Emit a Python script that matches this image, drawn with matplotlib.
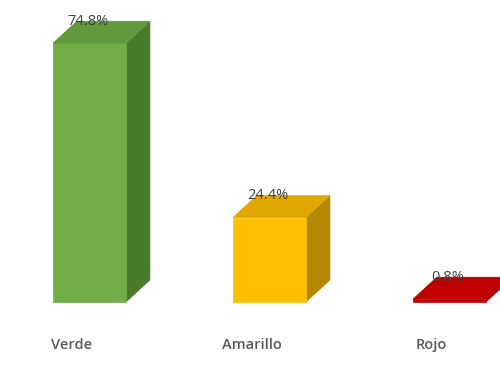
import matplotlib
matplotlib.use("Agg")
import matplotlib.pyplot as plt
from matplotlib.patches import Polygon

categories = ["Verde", "Amarillo", "Rojo"]
values = [74.8, 24.4, 0.8]
value_labels = ["74.8%", "24.4%", "0.8%"]
front_colors = ["#70AD47", "#FFC000", "#C00000"]
top_colors = ["#62993C", "#E0A800", "#C00000"]
side_colors = ["#4A7A2C", "#B38700", "#900000"]

fig = plt.figure(figsize=(5.0, 3.67), dpi=100)
ax = fig.add_axes([0, 0, 1, 1])
ax.set_xlim(-0.497, 2.281)
ax.set_ylim(-18.8, 87.3)
ax.axis("off")

w = 0.406
dx = 0.133
dy = 6.36

for i, (v, fc, tc, sc) in enumerate(zip(values, front_colors, top_colors, side_colors)):
    x0 = i - w / 2
    x1 = i + w / 2
    ax.add_patch(Polygon([(x1, 0), (x1 + dx, dy), (x1 + dx, v + dy), (x1, v)],
                         closed=True, facecolor=sc, edgecolor=sc, lw=0.5))
    ax.add_patch(Polygon([(x0, 0), (x1, 0), (x1, v), (x0, v)],
                         closed=True, facecolor=fc, edgecolor=fc, lw=0.5))
    ax.add_patch(Polygon([(x0, v), (x1, v), (x1 + dx, v + dy), (x0 + dx, v + dy)],
                         closed=True, facecolor=tc, edgecolor=tc, lw=0.5))
    ax.text(i - 0.01, v + dy, value_labels[i], ha="center", va="center",
            fontsize=10.5, color="#404040", family="Open Sans")
    ax.text(i - 0.1, -12.5, categories[i], ha="center", va="center",
            fontsize=10.5, color="#595959", family="Open Sans", weight="semibold")

fig.savefig("out.png", dpi=100)
